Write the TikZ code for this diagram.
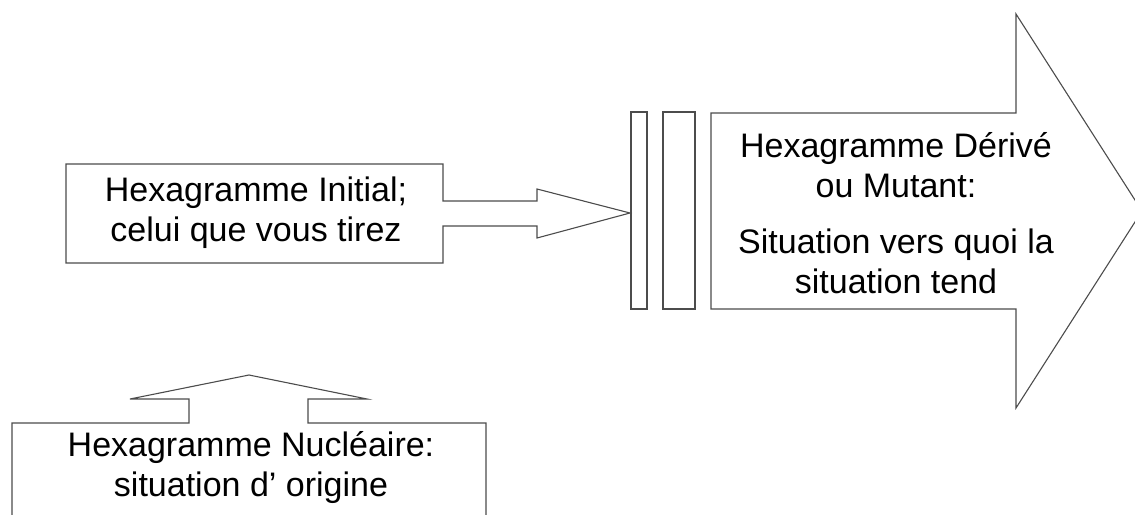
\documentclass[tikz,border=0pt]{standalone}
\usepackage{fontspec}
\setmainfont{Liberation Sans}
\usetikzlibrary{positioning}

\begin{document}
\begin{tikzpicture}[x=1pt, y=-1pt, line width=1.1pt,
    outline/.style={draw=black!70, line join=miter},
    every node/.style={font=\fontsize{34}{40}\selectfont, align=center, inner sep=0pt}]
    % Page frame
    \useasboundingbox (0,0) rectangle (1135,514);

    % Vertical centre of the main row
    \def\yMid{213}

    % Draw initial hexagram (box with short arrow)
    \draw[outline] (66,164) -- (443,164) -- (443,201) -- (537,201) -- (537,189)
        -- (630,\yMid) -- (537,238) -- (537,226) -- (443,226) -- (443,263) -- (66,263) -- cycle;
    \node (initial) at (256,\yMid) {Hexagramme Initial;\\celui que vous tirez};

    % Draw the two bars
    \draw[outline] (631,112) rectangle (647,309);
    \draw[outline] (663,112) rectangle (695,309);

    % Draw derived hexagram (big arrow)
    \draw[outline] (711,113) -- (1016,113) -- (1016,14) -- (1142,211)
        -- (1016,408) -- (1016,309) -- (711,309) -- cycle;
    \node (derived) at (896,213) {Hexagramme Dérivé\\ou Mutant:\\[16pt]Situation vers quoi la\\situation tend};

    % Draw nuclear hexagram (box with upward arrow)
    \draw[outline] (12,530) -- (12,423) -- (189,423) -- (189,399) -- (130,399) -- (249,375)
        -- (367,399) -- (308,399) -- (308,423) -- (486,423) -- (486,530);
    \node (nuclear) at (251,468) {Hexagramme Nucléaire:\\situation d' origine};
\end{tikzpicture}
\end{document}
